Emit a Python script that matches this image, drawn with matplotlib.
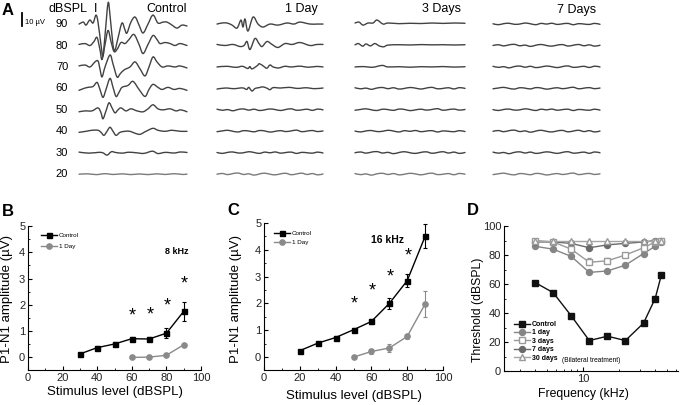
import numpy as np
import matplotlib
matplotlib.use('Agg')
import matplotlib.pyplot as plt
from matplotlib.path import Path
from matplotlib.patches import PathPatch
from matplotlib.ticker import MultipleLocator, FixedLocator, FixedFormatter, LogLocator, NullFormatter

plt.rcParams['font.family'] = ['Liberation Sans', 'DejaVu Sans']

# ---------------- Panel A data: ABR waveforms (time ms, amplitude uV) ----------------
levels = [90, 80, 70, 60, 50, 40, 30, 20]
conditions = ['Control', '1 Day', '3 Days', '7 Days']

control_abr = {
    90: [(0, 0), (0.4, 1.5), (0.65, -0.8), (1.0, 3.1), (1.3, 0.8), (1.57, 6.9), (1.76, 1.5), (2.04, -16.2),
         (2.22, -24.6), (2.41, -8.5), (2.69, 16.2), (2.87, 6.9), (3.15, -16.2), (3.33, -20.0), (3.61, -10.8),
         (3.98, 0.8), (4.26, -4.6), (4.44, -6.9), (4.81, 1.5), (5.19, 5.4), (5.56, -0.8), (5.93, -6.9),
         (6.39, 0), (6.85, 6.9), (7.31, 0.8), (7.78, 1.5), (8.15, 1.5), (8.61, -0.8), (9.07, -3.1),
         (9.54, -0.8), (10, -1.5)],
    80: [(0, 0.8), (0.56, 1.5), (1.02, 0), (1.39, 3.1), (1.67, 6.2), (1.94, -3.1), (2.13, -10.8), (2.41, 0.8),
         (2.69, 11.6), (2.96, 3.1), (3.24, -4.6), (3.52, -3.1), (3.89, 2.3), (4.26, 1.5), (4.63, 4.6),
         (5.09, 8.5), (5.56, 0.8), (5.93, -6.2), (6.39, 0.8), (6.85, 7.7), (7.22, 4.6), (7.5, 1.5),
         (7.96, 2.3), (8.43, 1.5), (8.89, 0), (9.35, 1.5), (10, 0)],
    70: [(0, 0.8), (0.56, 1.5), (1.02, 0), (1.48, 3.9), (1.76, 4.6), (1.94, -1.5), (2.13, -7.7), (2.41, 0),
         (2.87, 9.2), (3.15, 2.3), (3.52, -7.7), (3.8, -5.4), (4.17, -2.3), (4.72, 0), (5.19, 3.9),
         (5.65, -1.5), (6.11, -6.9), (6.48, 0), (6.85, 7.7), (7.22, 3.9), (7.69, 0), (8.24, 0.8),
         (8.89, 0), (9.35, 0.8), (10, -0.8)],
    60: [(0, -1.5), (0.46, 0), (0.83, 0.8), (1.3, 1.5), (1.67, 4.6), (1.94, -0.8), (2.22, -6.9), (2.5, -0.8),
         (2.87, 7.7), (3.15, 0.8), (3.43, -6.2), (3.7, -3.1), (3.98, 0.8), (4.54, 2.3), (5.0, 5.4),
         (5.56, -0.8), (6.11, -6.2), (6.48, -0.8), (6.85, 3.1), (7.31, 0.8), (7.69, -0.8), (8.24, 0.8),
         (8.8, -0.8), (9.35, 0), (10, -1.5)],
    50: [(0, -1.5), (0.56, -0.8), (1.2, -0.8), (1.76, 1.5), (2.04, -2.3), (2.22, -6.9), (2.5, -0.8), (2.78, 5.4),
         (3.06, 1.5), (3.33, -2.3), (3.61, 0), (3.89, 1.5), (4.35, -0.8), (4.81, 0.8), (5.37, -0.8),
         (5.93, -1.5), (6.39, 0.8), (6.85, 3.9), (7.31, 0.8), (7.78, 0), (8.43, 0.8), (8.98, -0.8),
         (9.44, 0), (10, -1.5)],
    40: [(0, -0.8), (0.65, 0), (1.2, 0.8), (1.76, 0.8), (2.04, -0.8), (2.31, -3.1), (2.59, 0), (2.87, 3.1),
         (3.15, 0), (3.43, -3.1), (3.8, -0.8), (4.26, 0), (4.72, 0), (5.19, -1.5), (5.65, -2.3), (6.2, 0),
         (6.85, 2.3), (7.31, 0.8), (7.96, 0), (8.61, 0.8), (9.35, 0), (10, 0)],
    30: [(0, 0.5), (0.9, -0.3), (1.8, 0.3), (2.2, 0), (2.6, -1.8), (3.0, 0.8), (3.4, 0.2), (4.0, -0.3),
         (4.6, 0.4), (5.3, 0), (6.0, -0.5), (6.8, 1.2), (7.3, -0.6), (8.0, 0.3), (8.8, -0.2), (9.4, 0.6),
         (10, 0.2)],
    20: [(0, 0), (0.8, 0.3), (1.6, -0.3), (2.4, 0.4), (3.2, -0.2), (4.0, 0.3), (4.8, -0.3), (5.6, 0.2),
         (6.4, -0.3), (7.2, 0.3), (8.0, -0.2), (8.8, 0.4), (9.6, -0.2), (10, 0.1)],
}

day1_abr = {
    90: [(0, 0), (0.47, 0.8), (0.94, 0.8), (1.42, -0.8), (1.89, -3.1), (2.26, 3.1), (2.45, -2.3), (2.64, 3.9),
         (2.92, -5.4), (3.4, 5.4), (3.87, 0), (4.34, -2.3), (5.0, 0), (5.75, -0.8), (6.6, 0.8), (7.26, 0),
         (7.83, 1.5), (8.77, 0), (9.43, 0), (10, 0)],
    80: [(0, 0.8), (0.75, 0), (1.51, 0.8), (2.17, -0.8), (2.55, 0), (2.83, 3.1), (3.11, -3.1), (3.58, 5.4),
         (3.96, 1.5), (4.25, -0.8), (4.72, 3.1), (5.19, 0.8), (5.75, -1.5), (6.42, 1.5), (7.08, 0.8),
         (7.83, 2.3), (8.77, 0), (9.43, 0.8), (10, 0.8)],
    70: [(0, 0), (0.9, 0.5), (1.8, -0.3), (2.4, 0.5), (2.9, -1.2), (3.1, 0.3), (3.3, -1.5), (3.8, 1.0),
         (4.0, 2.5), (4.4, 0.5), (4.7, -1.0), (5.0, 1.5), (5.3, 0), (5.8, -0.8), (6.4, 0.5), (7.0, 0),
         (7.8, 0.6), (8.6, -0.2), (9.4, 0.4), (10, 0)],
    60: [(0, -0.5), (0.8, 0.3), (1.6, -0.2), (2.4, 0.4), (2.8, -0.8), (3.0, 0.8), (3.3, -2.0), (3.6, 0),
         (4.0, 0.6), (4.3, 1.2), (4.7, 0.2), (5.0, -1.0), (5.3, 0.6), (6.0, 0.3), (6.8, 0.8), (7.6, 0),
         (8.4, 0.5), (9.2, -0.2), (10, 0.3)],
}

day3_abr = {
    90: [(0, 0.8), (0.36, 1.5), (0.73, -0.8), (1.18, 0.8), (1.64, 0.8), (2.0, 3.1), (2.55, 0), (3.0, 0.8),
         (4.0, 0.3), (5.0, 0.6), (6.0, 0.4), (7.0, 0.8), (8.0, 0.5), (9.0, 0.8), (10, 0.6)],
    80: [(0, 0.5), (0.3, 1.5), (0.7, -0.5), (1.0, 1.2), (1.4, -0.3), (1.8, 1.5), (2.2, -0.3), (2.6, -1.0),
         (3.0, 0.3), (4.0, 0.6), (5.0, 0.4), (6.0, 0.7), (7.0, 0.5), (8.0, 0.6), (9.0, 0.4), (10, 0.6)],
    70: [(0, 0), (0.8, 0.3), (1.5, -0.3), (2.0, 0.4), (2.5, 1.2), (3.0, 0), (4.0, 0.2), (5.0, -0.2),
         (6.0, 0.2), (7.0, 0), (8.0, 0.3), (9.0, -0.1), (10, 0.2)],
}

day7_abr = {}

# hand-read baseline noise for the flat traces (uV, sampled every 0.5 ms)
noise_t = np.linspace(0, 10, 21)
noise_1 = [0.0, 0.6, -0.3, 0.5, 0.9, -0.2, 0.3, -0.7, 0.2, 0.8, 0.0, -0.5, 0.3, 0.7, -0.4, 0.2, 0.8, -0.2, 0.5, -0.5, 0.2]
noise_2 = [0.5, -0.3, 0.2, -0.7, 0.3, 0.7, -0.2, 0.5, -0.5, 0.0, 0.7, 0.2, -0.5, 0.3, 0.8, -0.3, 0.0, 0.5, -0.4, 0.6, 0.0]
noise_3 = [-0.3, 0.3, 0.8, 0.0, -0.5, 0.5, 0.2, -0.4, 0.6, 0.3, -0.6, 0.0, 0.5, -0.2, 0.3, 0.9, -0.3, 0.2, 0.6, -0.2, 0.3]
noise_4 = [0.2, -0.5, 0.3, 0.6, -0.2, 0.0, 0.8, 0.2, -0.5, 0.5, 0.0, 0.6, -0.3, 0.2, 0.5, -0.5, 0.3, 0.0, -0.3, 0.5, -0.2]
noise_sets = [noise_1, noise_2, noise_3, noise_4]

# ---------------- Panel B data (8 kHz) ----------------
b_lvl_ctrl = [30, 40, 50, 60, 70, 80, 90]
b_ctrl = [0.13, 0.37, 0.51, 0.71, 0.70, 0.92, 1.75]
b_ctrl_err = [0.04, 0.06, 0.08, 0.08, 0.08, 0.18, 0.36]
b_lvl_d1 = [60, 70, 80, 90]
b_d1 = [0.0, 0.01, 0.08, 0.48]
b_d1_err = [0.02, 0.02, 0.03, 0.04]
b_star_lvl = [60, 70, 80, 90]
b_star_y = [1.56, 1.61, 1.94, 2.78]

# ---------------- Panel C data (16 kHz) ----------------
c_lvl_ctrl = [20, 30, 40, 50, 60, 70, 80, 90]
c_ctrl = [0.24, 0.52, 0.73, 1.02, 1.33, 2.0, 2.85, 4.5]
c_ctrl_err = [0.04, 0.05, 0.06, 0.08, 0.1, 0.2, 0.25, 0.45]
c_lvl_d1 = [50, 60, 70, 80, 90]
c_d1 = [0.0, 0.21, 0.34, 0.77, 1.98]
c_d1_err = [0.03, 0.1, 0.15, 0.1, 0.49]
c_star_lvl = [50, 60, 70, 80]
c_star_y = [1.99, 2.45, 2.99, 3.78]

# ---------------- Panel D data (thresholds) ----------------
d_freq = [4, 5.66, 8, 11.3, 16, 22.6, 32, 40, 45]
d_control = [61, 54, 38, 21, 24, 21, 33, 50, 66]
d_1day = [86, 84, 79, 68, 69, 73, 81, 86, 89]
d_3days = [90, 89, 84, 75, 76, 80, 85, 89, 90]
d_3days_err = [0, 0, 0, 3, 2, 0, 0, 0, 0]
d_7days = [89, 89, 88, 85, 87, 88, 89, 90, 90]
d_30days = [90, 90, 90, 90, 90, 90, 90, 90, 90]

# ---------------- figure ----------------
W, H = 685, 405
fig = plt.figure(figsize=(W / 100, H / 100), dpi=100)


def fx(x):
    return x / W


def fy(y):
    return 1 - y / H


def rect(l, t, r, b):
    return [l / W, 1 - b / H, (r - l) / W, (b - t) / H]


def smooth_trace_path(t, v):
    """Smooth curve passing through every data point (Catmull-Rom drawn as Bezier)."""
    pts = np.column_stack([np.asarray(t, float), np.asarray(v, float)])
    verts = [pts[0]]
    codes = [Path.MOVETO]
    n = len(pts)
    for i in range(n - 1):
        p0 = pts[i - 1] if i > 0 else pts[i]
        p1 = pts[i]
        p2 = pts[i + 1]
        p3 = pts[i + 2] if i + 2 < n else pts[i + 1]
        verts += [p1 + (p2 - p0) / 6.0, p2 - (p3 - p1) / 6.0, p2]
        codes += [Path.CURVE4] * 3
    return Path(verts, codes)


# ---- Panel A ----
uv_per_db = 1.65
a_ylim = (24.7, 167.0)
cond_px = {'Control': (79, 187), '1 Day': (217, 323), '3 Days': (355, 465), '7 Days': (493, 600)}
cond_data = {'Control': control_abr, '1 Day': day1_abr, '3 Days': day3_abr, '7 Days': day7_abr}

a_axes = {}
for ci, cond in enumerate(conditions):
    l, r = cond_px[cond]
    ax = fig.add_axes(rect(l, 0, r, 185))
    ax.set_xlim(0, 10)
    ax.set_ylim(*a_ylim)
    ax.axis('off')
    a_axes[cond] = ax
    data = cond_data[cond]
    for li, lvl in enumerate(levels):
        off = lvl * uv_per_db
        if lvl in data:
            t = [p[0] for p in data[lvl]]
            v = [p[1] for p in data[lvl]]
        else:
            t = noise_t
            v = noise_sets[(ci + li) % 4]
        col = '#7a7a7a' if lvl == 20 else '#424242'
        patch = PathPatch(smooth_trace_path(t, np.asarray(v) + off), fill=False, edgecolor=col,
                          lw=1.0, clip_on=False, capstyle='round', joinstyle='round')
        ax.add_patch(patch)

axc = a_axes['Control']
for lvl in levels:
    axc.text(-1.0, lvl * uv_per_db, str(lvl), ha='right', va='center', fontsize=8, clip_on=False)
# scale bar 10 uV
axc.plot([-5.28, -5.28], [147, 157], color='black', lw=1.3, clip_on=False)
axc.text(-5.0, 147, '10 µV', ha='left', va='bottom', fontsize=5.5, clip_on=False)

fig.text(fx(2), fy(15), 'A', fontsize=12, fontweight='bold', va='baseline')
fig.text(fx(49), fy(12), 'dBSPL', fontsize=9, va='baseline')
fig.text(fx(96), fy(12), 'I', fontsize=9, va='baseline', ha='center')
fig.text(fx(187), fy(12), 'Control', fontsize=9, va='baseline', ha='right')
fig.text(fx(318), fy(12), '1 Day', fontsize=9, va='baseline', ha='right')
fig.text(fx(461), fy(12), '3 Days', fontsize=9, va='baseline', ha='right')
fig.text(fx(596), fy(13), '7 Days', fontsize=9, va='baseline', ha='right')


def style_axes(ax):
    ax.spines['top'].set_visible(False)
    ax.spines['right'].set_visible(False)
    for s in ('left', 'bottom'):
        ax.spines[s].set_linewidth(0.8)
    ax.tick_params(which='major', direction='in', length=3, width=0.8, labelsize=8, pad=2,
                   labelcolor='#222222')
    ax.tick_params(which='minor', direction='in', length=1.6, width=0.6)


def amp_panel(ax, lc, yc, ec, ld, yd, ed, sl, sy, freq_label, flx, fly, fsize, leg_anchor, leg_spacing):
    style_axes(ax)
    h1 = ax.errorbar(lc, yc, yerr=ec, color='black', marker='s', ms=3.6, lw=1.0, capsize=1.5,
                     elinewidth=0.8, capthick=0.8)
    h2 = ax.errorbar(ld, yd, yerr=ed, color='#8a8a8a', marker='o', ms=3.8, lw=1.0, capsize=1.5,
                     elinewidth=0.8, capthick=0.8)
    for x, y in zip(sl, sy):
        ax.text(x + 0.5, y, '*', ha='center', va='center', fontsize=13)
    ax.text(flx, fly, freq_label, ha='center', va='center', fontsize=fsize, fontweight='bold')
    ax.set_xlim(0, 100)
    ax.set_ylim(-0.48, 5)
    ax.xaxis.set_major_locator(MultipleLocator(20))
    ax.xaxis.set_minor_locator(MultipleLocator(10))
    ax.yaxis.set_major_locator(MultipleLocator(1))
    ax.yaxis.set_minor_locator(MultipleLocator(0.5))
    ax.legend([h1[0], h2[0]], ['Control', '1 Day'], loc='upper left', bbox_to_anchor=leg_anchor,
              frameon=False, fontsize=4.5, handlelength=2.6, handletextpad=0.3, borderpad=0,
              borderaxespad=0, labelspacing=leg_spacing)


axB = fig.add_axes(rect(28, 226, 201, 370))
amp_panel(axB, b_lvl_ctrl, b_ctrl, b_ctrl_err, b_lvl_d1, b_d1, b_d1_err, b_star_lvl, b_star_y,
          '8 kHz', 86, 4.03, 6.5, (0.075, 0.955), 1.0)
axC = fig.add_axes(rect(264, 223, 443, 370))
amp_panel(axC, c_lvl_ctrl, c_ctrl, c_ctrl_err, c_lvl_d1, c_d1, c_d1_err, c_star_lvl, c_star_y,
          '16 kHz', 69, 4.35, 7.5, (0.055, 0.945), 0.55)

fig.text(fx(2), fy(216), 'B', fontsize=12, fontweight='bold', va='baseline')
fig.text(fx(227), fy(215), 'C', fontsize=12, fontweight='bold', va='baseline')
fig.text(fx(467), fy(215), 'D', fontsize=12, fontweight='bold', va='baseline')

fig.text(fx(7), fy(299), 'P1-N1 amplitude (µV)', rotation=90, ha='center', va='center', fontsize=9.5)
fig.text(fx(236), fy(299), 'P1-N1 amplitude (µV)', rotation=90, ha='center', va='center', fontsize=9.5)
fig.text(fx(115), fy(392), 'Stimulus level (dBSPL)', ha='center', va='center', fontsize=9.5)
fig.text(fx(354), fy(396), 'Stimulus level (dBSPL)', ha='center', va='center', fontsize=9.5)

# ---- Panel D ----
axD = fig.add_axes(rect(504, 226, 678, 371))
style_axes(axD)
axD.set_xscale('log')
hc, = axD.plot(d_freq, d_control, color='#111111', marker='s', ms=4.3, lw=1.0, zorder=5)
h1, = axD.plot(d_freq, d_1day, color='#858585', marker='o', ms=4.3, lw=1.0, zorder=3)
e3 = axD.errorbar(d_freq, d_3days, yerr=[[0] * len(d_3days), d_3days_err], color='#9a9a9a', marker='s',
                  ms=4.3, mfc='white', mec='#9a9a9a', lw=1.0, capsize=1.5, elinewidth=0.8, zorder=3)
h7, = axD.plot(d_freq, d_7days, color='#6a6a6a', marker='o', ms=4.3, lw=1.0, zorder=3)
h30, = axD.plot(d_freq, d_30days, color='#a5a5a5', marker='^', ms=4.6, mfc='white', mec='#9a9a9a',
                lw=1.0, zorder=4)
axD.set_xlim(2.2, 62)
axD.set_ylim(0, 100)
axD.xaxis.set_major_locator(FixedLocator([10]))
axD.xaxis.set_major_formatter(FixedFormatter(['10']))
axD.xaxis.set_minor_locator(LogLocator(base=10, subs=np.arange(2, 10)))
axD.xaxis.set_minor_formatter(NullFormatter())
axD.yaxis.set_major_locator(MultipleLocator(20))
axD.yaxis.set_minor_locator(MultipleLocator(10))
axD.legend([hc, h1, e3[0], h7, h30], ['Control', '1 day', '3 days', '7 days', '30 days'],
           loc='upper left', bbox_to_anchor=(0.06, 0.345), frameon=False,
           prop={'size': 5, 'weight': 'bold'}, handlelength=2.2, handletextpad=0.3, borderpad=0,
           borderaxespad=0, labelspacing=0.2)
fig.text(fx(562), fy(360), '(Bilateral treatment)', fontsize=4.8, va='center')
fig.text(fx(478), fy(310), 'Threshold (dBSPL)', rotation=90, ha='center', va='center', fontsize=8.8)
fig.text(fx(583), fy(394), 'Frequency (kHz)', ha='center', va='center', fontsize=8.8)

fig.savefig('out.png', dpi=100)
